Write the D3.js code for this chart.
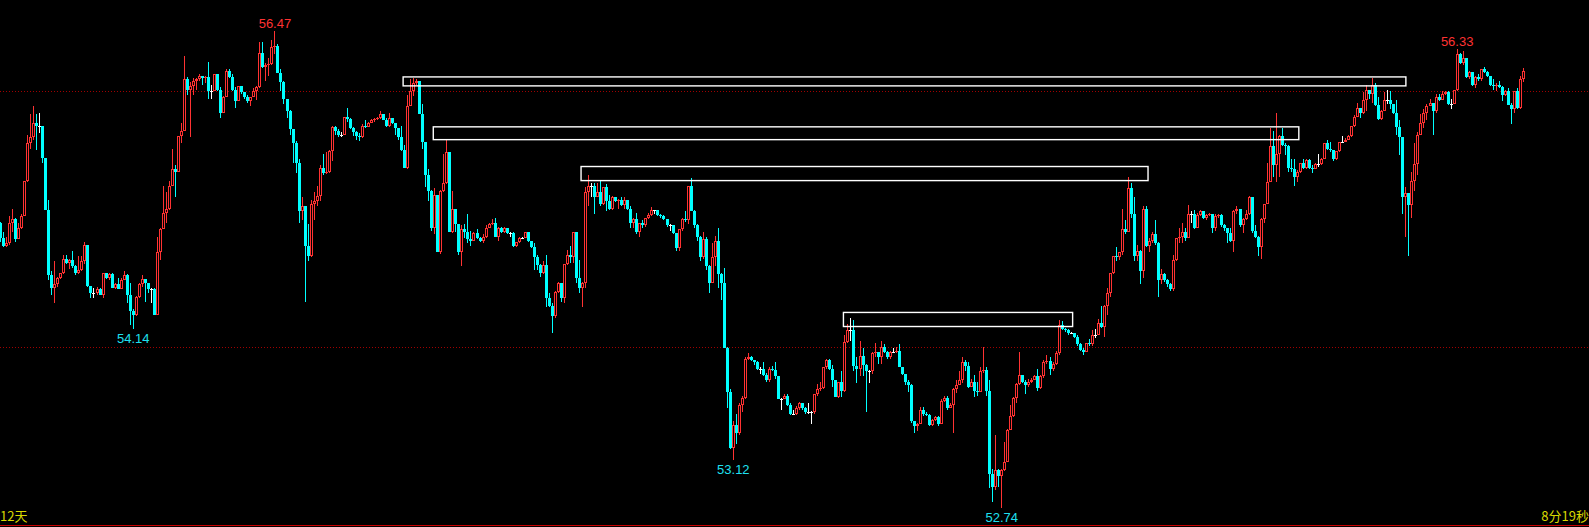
<!DOCTYPE html>
<html><head><meta charset="utf-8">
<script src="https://cdn.jsdelivr.net/npm/d3@7"></script>
<style>html,body{margin:0;padding:0;background:#000;overflow:hidden}</style>
</head><body><svg id="c" width="1589" height="527"></svg>
<script>
const firstOpen = 54.97;
const closes = [
54.85,54.79,54.81,54.97,55.00,54.84,54.93,55.02,55.30,55.59,
55.64,55.75,55.73,55.73,55.48,55.07,54.56,54.46,54.49,54.54,
54.58,54.69,54.66,54.68,54.63,54.58,54.60,54.67,54.80,54.48,
54.42,54.42,54.45,54.41,54.58,54.54,54.57,54.46,54.49,54.45,
54.52,54.56,54.41,54.28,54.25,54.39,54.49,54.53,54.50,54.45,
54.45,54.25,54.74,54.92,55.05,55.08,55.26,55.39,55.37,55.65,
55.69,56.09,56.01,56.04,56.08,56.09,56.12,56.10,56.11,56.00,
56.00,56.13,56.01,55.83,55.95,56.16,56.11,56.01,55.92,56.04,
55.99,55.95,55.92,55.95,56.00,56.03,56.30,56.19,56.20,56.21,
56.34,56.35,56.14,56.07,55.94,55.84,55.70,55.59,55.44,55.06,
55.10,54.79,54.71,55.12,55.14,55.18,55.40,55.36,55.37,55.53,
55.72,55.69,55.66,55.66,55.80,55.78,55.71,55.68,55.65,55.64,
55.73,55.72,55.75,55.77,55.78,55.79,55.82,55.77,55.73,55.79,
55.75,55.71,55.64,55.54,55.40,55.88,56.00,56.06,56.08,55.82,
55.60,55.34,55.22,54.93,55.19,54.74,55.22,55.28,55.52,54.90,
55.08,54.96,54.74,54.92,54.90,54.84,54.83,54.89,54.85,54.83,
54.86,54.93,54.96,54.97,54.86,54.93,54.90,54.93,54.89,54.89,
54.79,54.82,54.85,54.85,54.90,54.83,54.78,54.70,54.64,54.58,
54.64,54.38,54.32,54.24,54.43,54.50,54.38,54.65,54.72,54.70,
54.90,54.54,54.46,54.50,55.21,55.26,55.26,55.17,55.21,55.12,
55.25,55.14,55.08,55.17,55.14,55.15,55.11,55.15,55.08,54.97,
55.00,54.90,54.97,54.95,55.01,55.03,55.07,55.07,55.03,55.02,
55.00,54.95,54.95,54.89,54.77,54.92,55.00,54.99,55.26,55.06,
54.95,54.86,54.70,54.84,54.63,54.50,54.70,54.83,54.57,54.50,
53.99,53.65,53.21,53.39,53.33,53.55,53.60,53.91,53.92,53.90,
53.88,53.83,53.83,53.78,53.74,53.83,53.82,53.77,53.59,53.59,
53.62,53.55,53.48,53.48,53.52,53.56,53.52,53.49,53.49,53.49,
53.63,53.67,53.68,53.84,53.90,53.83,53.74,53.61,53.73,53.66,
54.04,54.13,54.13,53.85,53.83,53.93,53.86,53.81,53.81,53.95,
53.96,53.92,54.00,53.96,53.92,53.96,53.96,53.97,53.84,53.79,
53.73,53.70,53.42,53.38,53.40,53.51,53.48,53.47,53.39,53.43,
53.45,53.40,53.58,53.60,53.52,53.55,53.67,53.70,53.74,53.88,
53.85,53.69,53.73,53.66,53.65,53.81,53.82,53.66,53.01,52.91,
53.04,52.99,53.04,53.10,53.35,53.46,53.60,53.71,53.78,53.73,
53.70,53.73,53.74,53.77,53.68,53.77,53.88,53.89,53.83,53.87,
53.95,54.17,54.14,54.13,54.11,54.11,54.08,54.02,53.98,53.96,
54.03,54.02,54.09,54.09,54.19,54.16,54.32,54.42,54.58,54.71,
54.70,54.74,54.92,54.90,55.24,55.04,54.71,54.75,54.59,55.08,
54.79,54.83,54.88,54.81,54.52,54.57,54.52,54.49,54.45,54.68,
54.85,54.86,54.90,54.85,55.04,55.04,54.93,55.03,55.06,55.01,
55.03,55.04,54.93,55.02,55.03,54.95,54.93,54.89,54.83,55.06,
55.08,54.95,55.00,55.04,55.17,54.91,54.86,54.78,55.00,55.12,
55.29,55.57,55.42,55.51,55.65,55.58,55.57,55.40,55.39,55.33,
55.37,55.44,55.40,55.46,55.40,55.39,55.43,55.43,55.47,55.59,
55.55,55.54,55.47,55.53,55.60,55.60,55.62,55.65,55.73,55.80,
55.87,55.83,55.93,56.01,55.98,56.05,55.89,55.78,55.84,55.93,
55.93,55.90,55.83,55.72,55.64,55.17,55.20,55.11,55.30,55.43,
55.66,55.75,55.83,55.88,55.91,55.84,55.95,55.93,55.98,55.99,
55.90,55.90,56.01,56.29,56.22,56.26,56.11,56.15,56.05,56.11,
56.09,56.17,56.15,56.12,56.05,56.04,56.05,56.03,55.97,56.00,
55.89,55.86,56.00,55.87,56.09,56.16];
const highs = [
54.98,54.90,54.86,55.02,55.08,55.01,54.97,55.04,55.30,55.66,
55.82,55.88,55.82,55.83,55.73,55.48,55.15,54.59,54.67,54.55,
54.58,54.72,54.72,54.69,54.75,54.64,54.71,54.71,54.82,54.80,
54.48,54.46,54.47,54.46,54.58,54.58,54.58,54.58,54.50,54.54,
54.54,54.59,54.57,54.50,54.30,54.40,54.50,54.56,54.53,54.50,
54.46,54.46,54.86,54.93,55.26,55.21,55.30,55.55,55.42,55.65,
55.75,56.27,56.11,56.07,56.10,56.10,56.13,56.12,56.12,56.23,
56.05,56.13,56.13,56.03,55.96,56.17,56.17,56.13,56.03,56.04,
56.04,55.99,55.97,55.95,56.02,56.04,56.38,56.38,56.22,56.26,
56.40,56.47,56.37,56.17,56.08,55.94,55.85,55.70,55.61,55.47,
55.17,55.09,54.96,55.15,55.21,55.26,55.42,55.51,55.52,55.54,
55.73,55.73,55.70,55.68,55.80,55.87,55.79,55.72,55.69,55.67,
55.74,55.77,55.76,55.78,55.79,55.80,55.84,55.82,55.79,55.83,
55.79,55.75,55.71,55.73,55.58,55.97,56.09,56.10,56.09,56.08,
55.90,55.60,55.39,55.23,55.24,55.19,55.23,55.51,55.62,55.52,
55.22,55.08,54.96,54.95,54.96,55.04,54.91,54.90,54.92,54.86,
54.88,54.95,54.97,55.00,55.01,54.94,54.94,54.94,54.93,54.90,
54.90,54.82,54.86,54.86,54.90,54.90,54.83,54.81,54.72,54.65,
54.67,54.72,54.42,54.34,54.44,54.51,54.50,54.65,54.76,54.79,
54.90,54.90,54.68,54.51,55.25,55.34,55.28,55.28,55.28,55.30,
55.25,55.27,55.19,55.18,55.17,55.16,55.17,55.17,55.15,55.10,
55.01,55.05,54.97,54.99,55.01,55.05,55.09,55.07,55.07,55.04,
55.03,55.00,54.96,54.95,54.89,54.92,55.01,55.06,55.26,55.32,
55.07,54.96,54.87,54.90,54.86,54.64,54.81,54.87,54.93,54.58,
54.62,54.00,53.67,53.42,53.48,53.56,53.62,53.92,53.95,53.93,
53.90,53.89,53.84,53.88,53.80,53.84,53.85,53.88,53.77,53.60,
53.63,53.63,53.56,53.51,53.54,53.57,53.56,53.53,53.56,53.50,
53.63,53.71,53.73,53.84,53.91,53.91,53.86,53.74,53.73,53.81,
54.09,54.18,54.23,54.21,53.92,54.05,53.99,53.87,53.82,53.96,
54.03,53.96,54.05,54.02,53.97,53.97,53.99,54.00,54.02,53.84,
53.79,53.74,53.71,53.42,53.41,53.53,53.53,53.49,53.48,53.44,
53.46,53.46,53.59,53.62,53.62,53.56,53.68,53.74,53.81,53.92,
53.90,53.88,53.75,53.78,53.73,53.84,54.00,53.84,53.74,53.05,
53.31,53.05,53.05,53.26,53.36,53.55,53.61,53.72,53.96,53.78,
53.74,53.75,53.76,53.78,53.83,53.78,53.90,53.94,53.92,53.88,
53.97,54.21,54.20,54.15,54.14,54.12,54.11,54.09,54.03,53.99,
54.03,54.06,54.13,54.14,54.22,54.32,54.33,54.46,54.58,54.71,
54.78,54.74,55.08,54.99,55.33,55.28,55.17,54.80,54.76,55.10,
55.10,54.85,54.90,54.99,54.82,54.61,54.58,54.53,54.50,54.72,
54.85,54.93,54.97,54.93,55.11,55.06,55.07,55.05,55.07,55.06,
55.04,55.05,55.04,55.04,55.04,55.04,54.96,54.93,54.93,55.07,
55.10,55.08,55.01,55.07,55.18,55.17,54.95,54.87,55.01,55.12,
55.44,55.71,55.69,55.83,55.66,55.71,55.59,55.58,55.47,55.47,
55.38,55.44,55.47,55.47,55.47,55.42,55.44,55.51,55.48,55.59,
55.62,55.60,55.54,55.53,55.60,55.65,55.63,55.66,55.73,55.81,
55.91,55.87,55.99,56.05,56.01,56.10,56.06,55.95,55.85,55.99,
56.01,56.00,55.90,55.93,55.77,55.64,55.25,55.15,55.37,55.59,
55.68,55.82,55.86,55.90,55.94,55.91,55.98,55.98,56.00,56.00,
56.00,55.94,56.01,56.33,56.30,56.31,56.26,56.16,56.15,56.12,
56.13,56.17,56.19,56.16,56.12,56.09,56.06,56.08,56.04,56.01,
56.02,55.91,56.00,56.02,56.12,56.18];
const lows = [
54.82,54.78,54.78,54.80,54.90,54.82,54.84,54.92,55.02,55.29,
55.55,55.62,55.54,55.67,55.44,55.07,54.52,54.41,54.34,54.47,
54.53,54.57,54.65,54.61,54.62,54.56,54.57,54.59,54.65,54.47,
54.38,54.38,54.41,54.41,54.38,54.53,54.52,54.46,54.45,54.45,
54.45,54.52,54.34,54.17,54.14,54.24,54.38,54.47,54.35,54.42,
54.34,54.25,54.25,54.68,54.97,54.97,55.07,55.26,55.17,55.37,
55.59,55.69,55.97,55.64,55.97,56.01,56.08,56.05,56.06,55.94,
55.94,56.00,56.00,55.79,55.83,55.95,56.10,56.00,55.87,55.92,
55.98,55.94,55.91,55.88,55.95,55.93,56.02,56.18,56.08,56.12,
56.20,56.29,56.14,56.00,55.90,55.79,55.66,55.44,55.36,54.97,
54.99,54.35,54.67,54.70,54.99,55.10,55.14,55.34,55.35,55.36,
55.45,55.66,55.64,55.64,55.66,55.76,55.70,55.65,55.62,55.61,
55.63,55.71,55.72,55.75,55.76,55.77,55.78,55.77,55.72,55.72,
55.74,55.66,55.62,55.53,55.40,55.39,55.88,55.96,56.05,55.82,
55.55,55.25,55.14,54.91,54.88,54.74,54.73,55.21,55.27,54.90,
54.89,54.90,54.72,54.63,54.85,54.81,54.79,54.83,54.84,54.82,
54.81,54.85,54.93,54.95,54.86,54.83,54.89,54.89,54.88,54.86,
54.78,54.78,54.81,54.84,54.85,54.82,54.77,54.60,54.60,54.55,
54.57,54.31,54.31,54.11,54.23,54.42,54.35,54.34,54.64,54.66,
54.66,54.50,54.42,54.31,54.46,55.10,55.17,55.04,55.17,55.10,
55.11,55.06,55.07,55.07,55.13,55.08,55.10,55.08,55.07,54.93,
54.93,54.88,54.86,54.93,54.94,55.00,55.02,55.04,55.02,55.01,
54.99,54.94,54.91,54.88,54.75,54.75,54.91,54.98,54.96,55.06,
54.93,54.83,54.67,54.69,54.60,54.42,54.50,54.63,54.46,54.37,
53.99,53.52,53.20,53.12,53.24,53.31,53.49,53.59,53.90,53.89,
53.86,53.82,53.79,53.77,53.73,53.73,53.81,53.75,53.59,53.51,
53.59,53.54,53.47,53.47,53.47,53.51,53.51,53.48,53.48,53.40,
53.48,53.62,53.66,53.67,53.83,53.82,53.69,53.61,53.60,53.61,
53.65,54.03,54.05,53.81,53.72,53.77,53.77,53.49,53.72,53.79,
53.92,53.87,53.87,53.95,53.91,53.91,53.95,53.95,53.84,53.78,
53.70,53.65,53.41,53.33,53.34,53.40,53.46,53.46,53.38,53.38,
53.42,53.38,53.40,53.57,53.51,53.52,53.33,53.64,53.70,53.72,
53.81,53.68,53.69,53.61,53.62,53.65,53.80,53.62,52.90,52.79,
52.88,52.91,52.74,53.03,53.10,53.35,53.45,53.56,53.70,53.72,
53.63,53.69,53.72,53.74,53.66,53.67,53.76,53.87,53.78,53.81,
53.86,53.94,54.13,54.12,54.09,54.10,54.07,54.01,53.97,53.94,
53.96,54.01,54.01,54.07,54.09,54.15,54.08,54.25,54.39,54.57,
54.67,54.68,54.72,54.88,54.90,55.01,54.67,54.67,54.49,54.54,
54.78,54.74,54.81,54.80,54.39,54.49,54.51,54.47,54.44,54.44,
54.67,54.81,54.81,54.83,54.85,54.97,54.92,54.93,55.02,55.00,
54.99,55.02,54.89,54.91,55.01,54.94,54.91,54.81,54.82,54.74,
55.04,54.94,54.89,54.99,55.03,54.89,54.85,54.71,54.69,54.97,
55.12,55.29,55.33,55.29,55.33,55.57,55.50,55.37,55.37,55.26,
55.29,55.36,55.39,55.39,55.39,55.36,55.39,55.41,55.42,55.47,
55.54,55.52,55.45,55.46,55.52,55.60,55.60,55.62,55.64,55.72,
55.80,55.79,55.82,55.84,55.94,55.91,55.88,55.77,55.77,55.84,
55.90,55.86,55.82,55.66,55.50,55.04,54.86,54.71,55.01,55.22,
55.34,55.66,55.71,55.77,55.88,55.66,55.83,55.92,55.93,55.97,
55.89,55.86,55.90,56.00,56.21,56.20,56.10,56.09,56.04,56.02,
56.08,56.08,56.14,56.11,56.04,56.01,56.00,56.02,55.92,55.96,
55.89,55.74,55.83,55.86,55.86,56.07];

const refLevels = [56.00, 54.00];
const highMarks = [56.47, 56.33];
const lowMarks = [54.14, 53.12, 52.74];
const boxStart = [133.5, 143.5, 192.5, 279.5];
const boxEnd = [466, 430.5, 380.5, 355.5];
const boxTop = [56.11, 55.72, 55.41, 54.27];
const boxBottom = [56.04, 55.62, 55.30, 54.16];
const leftLabel = "12天";
const rightLabel = "8分19秒";

const W = 1589, H = 527;
const RED = "#ff3232", CYAN = "#00ffff", WHITE = "#ffffff";
const svg = d3.select("#c");
svg.append("rect").attr("width", W).attr("height", H).attr("fill", "#000");

const n = closes.length;
const data = closes.map((c, i) => {
  const o = i === 0 ? firstOpen : closes[i - 1];
  return {i, o, c, h: Math.max(highs[i], o, c), l: Math.min(lows[i], o, c)};
});
const x = d3.scaleLinear().domain([0, n - 1]).range([0.5, 1523.5]);
const y = d3.scaleLinear().domain([54, 56]).range([347, 91]);

// reference dotted lines
svg.append("g").selectAll("line").data(refLevels).join("line")
  .attr("x1", 0).attr("x2", W)
  .attr("y1", d => Math.round(y(d)) + 0.5).attr("y2", d => Math.round(y(d)) + 0.5)
  .attr("stroke", "#a00000").attr("stroke-width", 1).attr("stroke-dasharray", "1,2");

// bottom border line
svg.append("line").attr("x1", 0).attr("x2", W).attr("y1", 525.5).attr("y2", 525.5)
  .attr("stroke", "#c80000").attr("stroke-width", 1);

const g = svg.append("g").attr("shape-rendering", "crispEdges");
data.forEach(d => {
  const px = Math.floor(x(d.i));
  const wx = px + 0.5;
  const yt = Math.round(y(Math.max(d.o, d.c)));
  const yb = Math.round(y(Math.min(d.o, d.c)));
  const yh = Math.round(y(d.h));
  const yl = Math.round(y(d.l));
  const hgt = yb - yt;
  const up = d.c > d.o, down = d.c < d.o;
  const col = up ? RED : (down ? CYAN : WHITE);
  if (yh < yt) g.append("line").attr("x1", wx).attr("x2", wx).attr("y1", yh).attr("y2", yt).attr("stroke", col);
  if (yl > yb) g.append("line").attr("x1", wx).attr("x2", wx).attr("y1", yb).attr("y2", yl).attr("stroke", col);
  if (!up && !down) {
    g.append("rect").attr("x", px - 1).attr("y", yt).attr("width", 3).attr("height", 1).attr("fill", WHITE);
  } else if (up && hgt >= 3) {
    g.append("rect").attr("x", px - 0.5).attr("y", yt + 0.5).attr("width", 2).attr("height", hgt - 1)
      .attr("fill", "#000").attr("stroke", RED).attr("stroke-width", 1);
  } else {
    g.append("rect").attr("x", px - 1).attr("y", yt).attr("width", 3).attr("height", Math.max(1, hgt)).attr("fill", col);
  }
});

// boxes
svg.append("g").selectAll("rect").data(boxStart.map((s, k) => k)).join("rect")
  .attr("x", k => x(boxStart[k])).attr("width", k => x(boxEnd[k]) - x(boxStart[k]))
  .attr("y", k => y(boxTop[k])).attr("height", k => y(boxBottom[k]) - y(boxTop[k]))
  .attr("fill", "none").attr("stroke", WHITE).attr("stroke-width", 1.4);

// high / low labels
const font = "'Liberation Sans', Arial, sans-serif";
highMarks.forEach(v => {
  const d = data.find(e => Math.abs(highs[e.i] - v) < 1e-9);
  svg.append("text").attr("x", x(d.i)).attr("y", y(v) - 3).attr("text-anchor", "middle")
    .attr("font-family", font).attr("font-size", 13).attr("fill", RED).text(v.toFixed(2));
});
lowMarks.forEach(v => {
  const d = data.find(e => Math.abs(lows[e.i] - v) < 1e-9);
  svg.append("text").attr("x", x(d.i)).attr("y", y(v) + 14).attr("text-anchor", "middle")
    .attr("font-family", font).attr("font-size", 13).attr("fill", "#1ee0f0").text(v.toFixed(2));
});

// corner texts
const cjk = "'Noto Sans CJK SC', 'Liberation Sans', sans-serif";
svg.append("text").attr("x", 0).attr("y", 521).attr("font-family", cjk).attr("font-size", 13)
  .attr("fill", "#d8d800").text(leftLabel);
svg.append("text").attr("x", W).attr("y", 521).attr("text-anchor", "end").attr("font-family", cjk)
  .attr("font-size", 13).attr("fill", "#d8d800").text(rightLabel);
</script>
</body></html>
